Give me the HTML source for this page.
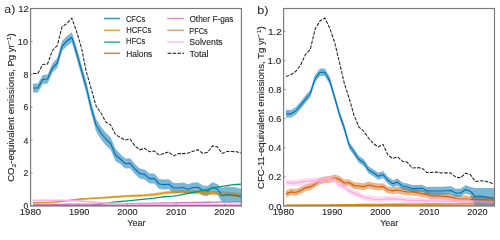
<!DOCTYPE html><html><head><meta charset="utf-8"><style>html,body{margin:0;padding:0;background:#fff;width:500px;height:231px;overflow:hidden}svg{display:block;will-change:transform}</style></head><body><svg width="500" height="231" viewBox="0 0 500 231"><defs><clipPath id="ca"><rect x="30.6" y="8.5" width="210.8" height="197.5"/></clipPath><clipPath id="cb"><rect x="283.6" y="8.5" width="210.89999999999998" height="197.5"/></clipPath></defs><g clip-path="url(#ca)"><path d="M33.02,202.30 L37.88,202.17 L42.73,202.04 L47.58,201.90 L52.42,201.61 L57.27,201.18 L62.12,200.74 L66.97,200.04 L71.82,199.34 L76.67,198.63 L81.53,198.22 L86.38,197.91 L91.22,197.60 L96.07,197.29 L100.92,196.97 L105.78,196.62 L110.62,196.23 L115.47,195.83 L120.32,195.44 L125.17,195.05 L130.03,194.72 L134.88,194.48 L139.72,194.24 L144.57,193.94 L149.42,193.53 L154.28,193.12 L159.12,192.34 L163.97,191.54 L168.82,190.86 L173.67,190.52 L178.52,190.28 L183.37,190.07 L188.22,190.18 L193.07,190.29 L197.92,190.43 L202.77,190.59 L207.62,190.75 L212.47,190.91 L217.32,191.19 L222.17,191.48 L227.02,191.77 L231.87,192.21 L236.72,192.66 L241.57,193.10 L241.57,197.90 L236.72,197.34 L231.87,196.79 L227.02,196.23 L222.17,195.83 L217.32,195.43 L212.47,195.04 L207.62,194.77 L202.77,194.50 L197.92,194.23 L193.07,193.98 L188.22,193.77 L183.37,193.55 L178.52,193.66 L173.67,193.80 L168.82,194.04 L163.97,194.61 L159.12,195.32 L154.28,195.99 L149.42,196.31 L144.57,196.62 L139.72,196.83 L134.88,196.97 L130.03,197.12 L125.17,197.36 L120.32,197.67 L115.47,197.97 L110.62,198.28 L105.78,198.58 L100.92,198.86 L96.07,199.09 L91.22,199.32 L86.38,199.55 L81.53,199.79 L76.67,200.13 L71.82,200.76 L66.97,201.40 L62.12,202.03 L57.27,202.41 L52.42,202.78 L47.58,203.02 L42.73,203.11 L37.88,203.20 L33.02,203.30Z" fill="#de8f05" fill-opacity="0.4"/><path d="M33.02,83.50 L37.88,83.50 L42.73,74.90 L47.58,74.50 L52.42,63.50 L57.27,58.00 L62.12,41.00 L66.97,36.00 L71.82,32.30 L76.67,47.20 L81.53,64.70 L86.38,81.80 L91.22,102.20 L96.07,118.70 L100.92,126.70 L105.78,132.70 L110.62,137.20 L115.47,148.70 L120.32,154.00 L125.17,158.60 L130.03,158.20 L134.88,164.00 L139.72,168.50 L144.57,169.40 L149.42,173.60 L154.28,173.60 L159.12,179.00 L163.97,179.60 L168.82,179.20 L173.67,183.00 L178.52,183.00 L183.37,182.50 L188.22,184.20 L193.07,182.50 L197.92,182.20 L202.77,185.50 L207.62,186.00 L212.47,182.20 L217.32,184.00 L222.17,188.00 L227.02,186.50 L231.87,187.00 L236.72,187.50 L241.57,189.00 L241.57,202.50 L236.72,202.50 L231.87,202.50 L227.02,202.50 L222.17,202.50 L217.32,194.50 L212.47,192.20 L207.62,196.00 L202.77,195.50 L197.92,192.20 L193.07,192.50 L188.22,194.20 L183.37,192.50 L178.52,193.00 L173.67,193.00 L168.82,189.20 L163.97,189.60 L159.12,189.00 L154.28,183.60 L149.42,183.60 L144.57,179.40 L139.72,178.50 L134.88,174.00 L130.03,168.20 L125.17,168.60 L120.32,164.00 L115.47,161.30 L110.62,149.80 L105.78,145.30 L100.92,139.30 L96.07,131.30 L91.22,113.80 L86.38,93.40 L81.53,76.30 L76.67,58.80 L71.82,42.30 L66.97,46.00 L62.12,51.00 L57.27,68.00 L52.42,72.50 L47.58,83.50 L42.73,83.90 L37.88,92.50 L33.02,92.50Z" fill="#0173b2" fill-opacity="0.52"/><path d="M33.02,202.30 L37.88,202.17 L42.73,202.04 L47.58,201.90 L52.42,201.61 L57.27,201.18 L62.12,200.74 L66.97,200.04 L71.82,199.34 L76.67,198.63 L81.53,198.22 L86.38,197.91 L91.22,197.60 L96.07,197.29 L100.92,196.97 L105.78,196.62 L110.62,196.23 L115.47,195.83 L120.32,195.44 L125.17,195.05 L130.03,194.72 L134.88,194.48 L139.72,194.24 L144.57,193.94 L149.42,193.53 L154.28,193.12 L159.12,192.34 L163.97,191.54 L168.82,190.86 L173.67,190.52 L178.52,190.28 L183.37,190.07 L188.22,190.18 L193.07,190.29 L197.92,190.43 L202.77,190.59 L207.62,190.75 L212.47,190.91 L217.32,191.19 L222.17,191.48 L227.02,191.77 L231.87,192.21 L236.72,192.66 L241.57,193.10 L241.57,197.90 L236.72,197.34 L231.87,196.79 L227.02,196.23 L222.17,195.83 L217.32,195.43 L212.47,195.04 L207.62,194.77 L202.77,194.50 L197.92,194.23 L193.07,193.98 L188.22,193.77 L183.37,193.55 L178.52,193.66 L173.67,193.80 L168.82,194.04 L163.97,194.61 L159.12,195.32 L154.28,195.99 L149.42,196.31 L144.57,196.62 L139.72,196.83 L134.88,196.97 L130.03,197.12 L125.17,197.36 L120.32,197.67 L115.47,197.97 L110.62,198.28 L105.78,198.58 L100.92,198.86 L96.07,199.09 L91.22,199.32 L86.38,199.55 L81.53,199.79 L76.67,200.13 L71.82,200.76 L66.97,201.40 L62.12,202.03 L57.27,202.41 L52.42,202.78 L47.58,203.02 L42.73,203.11 L37.88,203.20 L33.02,203.30Z" fill="#de8f05" fill-opacity="0.25"/><path d="M33.02,202.80 L37.88,202.69 L42.73,202.57 L47.58,202.46 L52.42,202.20 L57.27,201.79 L62.12,201.38 L66.97,200.72 L71.82,200.05 L76.67,199.38 L81.53,199.00 L86.38,198.73 L91.22,198.46 L96.07,198.19 L100.92,197.92 L105.78,197.60 L110.62,197.25 L115.47,196.90 L120.32,196.55 L125.17,196.20 L130.03,195.92 L134.88,195.72 L139.72,195.53 L144.57,195.28 L149.42,194.92 L154.28,194.55 L159.12,193.83 L163.97,193.07 L168.82,192.45 L173.67,192.16 L178.52,191.97 L183.37,191.81 L188.22,191.97 L193.07,192.14 L197.92,192.33 L202.77,192.55 L207.62,192.76 L212.47,192.98 L217.32,193.31 L222.17,193.66 L227.02,194.00 L231.87,194.50 L236.72,195.00 L241.57,195.50" stroke="#de8f05" stroke-width="1.3" fill="none" stroke-opacity="0.9"/><path d="M33.02,88.00 L37.88,88.00 L42.73,79.40 L47.58,79.00 L52.42,68.00 L57.27,63.00 L62.12,46.00 L66.97,41.00 L71.82,37.30 L76.67,53.00 L81.53,70.50 L86.38,87.60 L91.22,108.00 L96.07,125.00 L100.92,133.00 L105.78,139.00 L110.62,143.50 L115.47,155.00 L120.32,159.00 L125.17,163.60 L130.03,163.20 L134.88,169.00 L139.72,173.50 L144.57,174.40 L149.42,178.60 L154.28,178.60 L159.12,184.00 L163.97,184.60 L168.82,184.20 L173.67,188.00 L178.52,188.00 L183.37,187.50 L188.22,189.20 L193.07,187.50 L197.92,187.20 L202.77,190.50 L207.62,191.00 L212.47,187.20 L217.32,189.00 L222.17,196.00 L227.02,194.50 L231.87,195.00 L236.72,195.50 L241.57,197.00" stroke="#0173b2" stroke-width="1.15" fill="none" stroke-linejoin="round"/><path d="M33.02,206.20 L37.88,206.15 L42.73,206.10 L47.58,206.05 L52.42,206.00 L57.27,205.94 L62.12,205.89 L66.97,205.84 L71.82,205.79 L76.67,205.74 L81.53,205.69 L86.38,205.64 L91.22,205.41 L96.07,204.67 L100.92,203.92 L105.78,203.23 L110.62,202.58 L115.47,201.96 L120.32,201.51 L125.17,201.06 L130.03,200.60 L134.88,200.11 L139.72,199.63 L144.57,199.13 L149.42,198.60 L154.28,198.08 L159.12,197.42 L163.97,196.74 L168.82,196.37 L173.67,196.08 L178.52,195.30 L183.37,194.33 L188.22,193.40 L193.07,192.51 L197.92,191.61 L202.77,190.44 L207.62,189.26 L212.47,188.11 L217.32,187.19 L222.17,186.27 L227.02,185.55 L231.87,184.82 L236.72,184.50 L241.57,184.20" stroke="#029e73" stroke-width="1.3" fill="none"/><path d="M33.02,205.30 L37.88,205.30 L42.73,205.30 L47.58,205.30 L52.42,205.30 L57.27,205.30 L62.12,205.30 L66.97,205.30 L71.82,205.30 L76.67,205.30 L81.53,205.30 L86.38,205.30 L91.22,205.30 L96.07,205.30 L100.92,205.30 L105.78,205.30 L110.62,205.30 L115.47,205.30 L120.32,205.30 L125.17,205.30 L130.03,205.30 L134.88,205.30 L139.72,205.30 L144.57,205.30 L149.42,205.30 L154.28,205.30 L159.12,205.30 L163.97,205.30 L168.82,205.30 L173.67,205.30 L178.52,205.30 L183.37,205.30 L188.22,205.30 L193.07,205.30 L197.92,205.30 L202.77,205.30 L207.62,205.30 L212.47,205.30 L217.32,205.30 L222.17,205.30 L227.02,205.30 L231.87,205.30 L236.72,205.30 L241.57,205.30" stroke="#ca9161" stroke-width="1.3" fill="none"/><path d="M33.02,204.50 L37.88,204.46 L42.73,204.43 L47.58,204.39 L52.42,204.36 L57.27,204.32 L62.12,204.29 L66.97,204.25 L71.82,204.21 L76.67,204.18 L81.53,204.14 L86.38,204.11 L91.22,204.07 L96.07,204.04 L100.92,204.00 L105.78,203.96 L110.62,203.93 L115.47,203.89 L120.32,203.86 L125.17,203.82 L130.03,203.75 L134.88,203.63 L139.72,203.52 L144.57,203.40 L149.42,203.29 L154.28,203.18 L159.12,203.09 L163.97,203.01 L168.82,202.93 L173.67,202.85 L178.52,202.76 L183.37,202.68 L188.22,202.60 L193.07,202.51 L197.92,202.41 L202.77,202.32 L207.62,202.23 L212.47,202.14 L217.32,202.05 L222.17,201.96 L227.02,201.87 L231.87,201.78 L236.72,201.69 L241.57,201.60" stroke="#cc78bc" stroke-width="1.3" fill="none"/><path d="M33.02,205.70 L37.88,205.70 L42.73,205.69 L47.58,205.69 L52.42,205.68 L57.27,205.68 L62.12,205.67 L66.97,205.67 L71.82,205.66 L76.67,205.66 L81.53,205.65 L86.38,205.65 L91.22,205.64 L96.07,205.64 L100.92,205.63 L105.78,205.63 L110.62,205.63 L115.47,205.62 L120.32,205.62 L125.17,205.61 L130.03,205.61 L134.88,205.60 L139.72,205.60 L144.57,205.59 L149.42,205.59 L154.28,205.58 L159.12,205.58 L163.97,205.57 L168.82,205.57 L173.67,205.57 L178.52,205.56 L183.37,205.56 L188.22,205.55 L193.07,205.55 L197.92,205.54 L202.77,205.54 L207.62,205.53 L212.47,205.53 L217.32,205.52 L222.17,205.52 L227.02,205.51 L231.87,205.51 L236.72,205.50 L241.57,205.50" stroke="#d55e00" stroke-width="1.2" fill="none" stroke-opacity="0.75"/><path d="M33.02,200.40 L37.88,200.38 L42.73,200.37 L47.58,200.35 L52.42,200.33 L57.27,200.32 L62.12,200.30 L66.97,200.49 L71.82,200.67 L76.67,200.85 L81.53,201.17 L86.38,201.54 L91.22,201.91 L96.07,202.27 L100.92,202.64 L105.78,202.96 L110.62,203.23 L115.47,203.50 L120.32,203.77 L125.17,204.04 L130.03,204.20 L134.88,204.21 L139.72,204.21 L144.57,204.21 L149.42,204.22 L154.28,204.22 L159.12,204.23 L163.97,204.23 L168.82,204.24 L173.67,204.24 L178.52,204.24 L183.37,204.25 L188.22,204.25 L193.07,204.26 L197.92,204.26 L202.77,204.27 L207.62,204.27 L212.47,204.27 L217.32,204.28 L222.17,204.28 L227.02,204.29 L231.87,204.29 L236.72,204.30 L241.57,204.30" stroke="#fbafe4" stroke-width="1.6" fill="none"/><path d="M33.02,73.50 L37.88,73.50 L42.73,64.50 L47.58,64.00 L52.42,50.50 L57.27,45.50 L62.12,26.70 L66.97,23.50 L71.82,18.20 L76.67,31.80 L81.53,48.00 L86.38,72.00 L91.22,88.70 L96.07,106.00 L100.92,113.00 L105.78,122.00 L110.62,125.00 L115.47,134.50 L120.32,137.50 L125.17,140.00 L130.03,139.00 L134.88,146.00 L139.72,149.80 L144.57,148.30 L149.42,151.70 L154.28,151.00 L159.12,155.00 L163.97,153.40 L168.82,152.00 L173.67,156.00 L178.52,153.60 L183.37,153.60 L188.22,153.00 L193.07,151.20 L197.92,149.70 L202.77,153.40 L207.62,152.30 L212.47,145.90 L217.32,146.80 L222.17,153.40 L227.02,151.50 L231.87,151.50 L236.72,151.75 L241.57,153.20" stroke="#222" stroke-width="1.05" fill="none" stroke-dasharray="3.5,1.3"/></g><g clip-path="url(#cb)"><path d="M286.03,205.50 L290.88,205.50 L295.73,205.50 L300.58,205.50 L305.43,205.50 L310.28,205.50 L315.12,205.50 L319.98,205.50 L324.83,205.50 L329.68,205.50 L334.53,205.50 L339.38,205.50 L344.23,205.50 L349.08,205.50 L353.93,205.50 L358.78,205.50 L363.62,205.50 L368.48,205.50 L373.33,205.50 L378.18,205.50 L383.03,205.50 L387.88,205.50 L392.73,205.50 L397.58,205.50 L402.43,205.50 L407.28,205.50 L412.12,205.50 L416.98,205.50 L421.83,205.50 L426.68,205.50 L431.52,205.50 L436.38,205.50 L441.23,205.50 L446.08,205.50 L450.93,205.50 L455.77,205.50 L460.62,205.50 L465.48,205.50 L470.33,205.50 L475.18,205.50 L480.02,205.50 L484.88,205.50 L489.73,205.50 L494.58,205.50" stroke="#cc78bc" stroke-width="1.3" fill="none"/><path d="M286.03,205.80 L290.88,205.80 L295.73,205.80 L300.58,205.80 L305.43,205.80 L310.28,205.80 L315.12,205.80 L319.98,205.80 L324.83,205.80 L329.68,205.80 L334.53,205.80 L339.38,205.80 L344.23,205.80 L349.08,205.80 L353.93,205.80 L358.78,205.80 L363.62,205.80 L368.48,205.80 L373.33,205.80 L378.18,205.80 L383.03,205.80 L387.88,205.80 L392.73,205.80 L397.58,205.80 L402.43,205.80 L407.28,205.80 L412.12,205.80 L416.98,205.80 L421.83,205.80 L426.68,205.80 L431.52,205.80 L436.38,205.80 L441.23,205.80 L446.08,205.80 L450.93,205.80 L455.77,205.80 L460.62,205.80 L465.48,205.80 L470.33,205.80 L475.18,205.80 L480.02,205.80 L484.88,205.80 L489.73,205.80 L494.58,205.80" stroke="#ca9161" stroke-width="1.3" fill="none"/><path d="M286.03,205.30 L290.88,205.28 L295.73,205.26 L300.58,205.23 L305.43,205.21 L310.28,205.19 L315.12,205.17 L319.98,205.15 L324.83,205.12 L329.68,205.10 L334.53,205.01 L339.38,204.91 L344.23,204.82 L349.08,204.72 L353.93,204.62 L358.78,204.52 L363.62,204.47 L368.48,204.44 L373.33,204.40 L378.18,204.36 L383.03,204.33 L387.88,204.29 L392.73,204.25 L397.58,204.22 L402.43,204.18 L407.28,204.15 L412.12,204.12 L416.98,204.09 L421.83,204.05 L426.68,204.02 L431.52,203.99 L436.38,203.96 L441.23,203.93 L446.08,203.89 L450.93,203.86 L455.77,203.83 L460.62,203.80 L465.48,203.77 L470.33,203.74 L475.18,203.72 L480.02,203.69 L484.88,203.66 L489.73,203.63 L494.58,203.60" stroke="#de8f05" stroke-width="1.4" fill="none"/><path d="M286.03,190.50 L290.88,188.50 L295.73,189.10 L300.58,187.10 L305.43,184.50 L310.28,183.50 L315.12,180.50 L319.98,177.50 L324.83,176.50 L329.68,175.90 L334.53,174.50 L339.38,176.00 L344.23,179.60 L349.08,179.20 L353.93,182.20 L358.78,182.60 L363.62,183.20 L368.48,181.60 L373.33,182.60 L378.18,183.60 L383.03,183.20 L387.88,186.60 L392.73,187.20 L397.58,186.60 L402.43,187.60 L407.28,188.60 L412.12,188.60 L416.98,189.20 L421.83,190.20 L426.68,191.00 L431.52,192.40 L436.38,192.40 L441.23,192.80 L446.08,193.00 L450.93,193.80 L455.77,195.00 L460.62,195.80 L465.48,195.40 L470.33,196.00 L475.18,196.00 L480.02,196.40 L484.88,196.60 L489.73,196.80 L494.58,196.90 L494.58,203.70 L489.73,203.60 L484.88,203.40 L480.02,203.20 L475.18,202.80 L470.33,202.80 L465.48,202.20 L460.62,202.60 L455.77,201.80 L450.93,200.60 L446.08,199.80 L441.23,199.60 L436.38,199.20 L431.52,199.20 L426.68,197.80 L421.83,197.00 L416.98,196.00 L412.12,195.40 L407.28,195.40 L402.43,194.40 L397.58,193.40 L392.73,194.00 L387.88,193.40 L383.03,190.00 L378.18,190.40 L373.33,189.40 L368.48,188.40 L363.62,190.00 L358.78,189.40 L353.93,189.00 L349.08,186.00 L344.23,186.40 L339.38,182.80 L334.53,181.30 L329.68,182.70 L324.83,183.30 L319.98,184.30 L315.12,187.30 L310.28,190.30 L305.43,191.30 L300.58,193.90 L295.73,195.90 L290.88,195.30 L286.03,197.30Z" fill="#d55e00" fill-opacity="0.45"/><path d="M286.03,193.90 L290.88,191.90 L295.73,192.50 L300.58,190.50 L305.43,187.90 L310.28,186.90 L315.12,183.90 L319.98,180.90 L324.83,179.90 L329.68,179.30 L334.53,177.90 L339.38,179.40 L344.23,183.00 L349.08,182.60 L353.93,185.60 L358.78,186.00 L363.62,186.60 L368.48,185.00 L373.33,186.00 L378.18,187.00 L383.03,186.60 L387.88,190.00 L392.73,190.60 L397.58,190.00 L402.43,191.00 L407.28,192.00 L412.12,192.00 L416.98,192.60 L421.83,193.60 L426.68,194.40 L431.52,195.80 L436.38,195.80 L441.23,196.20 L446.08,196.40 L450.93,197.20 L455.77,198.40 L460.62,199.20 L465.48,198.80 L470.33,199.40 L475.18,199.40 L480.02,199.80 L484.88,200.00 L489.73,200.20 L494.58,200.30" stroke="#d55e00" stroke-width="1.2" fill="none"/><path d="M286.03,179.60 L290.88,180.00 L295.73,180.00 L300.58,179.00 L305.43,178.40 L310.28,178.00 L315.12,177.40 L319.98,178.00 L324.83,176.40 L329.68,176.00 L334.53,177.00 L339.38,182.00 L344.23,184.00 L349.08,188.00 L353.93,190.00 L358.78,192.00 L363.62,194.40 L368.48,195.00 L373.33,196.00 L378.18,196.40 L383.03,196.60 L387.88,195.80 L392.73,196.00 L397.58,196.20 L402.43,196.40 L407.28,197.20 L412.12,197.40 L416.98,197.60 L421.83,197.70 L426.68,197.80 L431.52,197.90 L436.38,198.00 L441.23,198.10 L446.08,198.20 L450.93,198.30 L455.77,198.40 L460.62,198.50 L465.48,198.60 L470.33,198.60 L475.18,198.60 L480.02,198.60 L484.88,198.70 L489.73,198.80 L494.58,198.80 L494.58,204.80 L489.73,204.80 L484.88,204.70 L480.02,204.60 L475.18,204.60 L470.33,204.60 L465.48,204.60 L460.62,204.50 L455.77,204.40 L450.93,204.30 L446.08,204.20 L441.23,204.10 L436.38,204.00 L431.52,203.90 L426.68,203.80 L421.83,203.70 L416.98,203.60 L412.12,203.40 L407.28,203.20 L402.43,202.40 L397.58,202.20 L392.73,202.00 L387.88,201.80 L383.03,202.60 L378.18,202.40 L373.33,202.00 L368.48,201.00 L363.62,200.40 L358.78,198.00 L353.93,196.00 L349.08,194.00 L344.23,190.00 L339.38,188.00 L334.53,183.00 L329.68,182.00 L324.83,182.40 L319.98,184.00 L315.12,183.40 L310.28,184.00 L305.43,184.40 L300.58,185.00 L295.73,186.00 L290.88,186.00 L286.03,185.60Z" fill="#fbafe4" fill-opacity="0.45"/><path d="M286.03,182.60 L290.88,183.00 L295.73,183.00 L300.58,182.00 L305.43,181.40 L310.28,181.00 L315.12,180.40 L319.98,181.00 L324.83,179.40 L329.68,179.00 L334.53,180.00 L339.38,185.00 L344.23,187.00 L349.08,191.00 L353.93,193.00 L358.78,195.00 L363.62,197.40 L368.48,198.00 L373.33,199.00 L378.18,199.40 L383.03,199.60 L387.88,198.80 L392.73,199.00 L397.58,199.20 L402.43,199.40 L407.28,200.20 L412.12,200.40 L416.98,200.60 L421.83,200.70 L426.68,200.80 L431.52,200.90 L436.38,201.00 L441.23,201.10 L446.08,201.20 L450.93,201.30 L455.77,201.40 L460.62,201.50 L465.48,201.60 L470.33,201.60 L475.18,201.60 L480.02,201.60 L484.88,201.70 L489.73,201.80 L494.58,201.80" stroke="#fbafe4" stroke-width="1.4" fill="none"/><path d="M286.03,110.00 L290.88,110.00 L295.73,107.20 L300.58,101.50 L305.43,95.50 L310.28,89.70 L315.12,74.70 L319.98,68.50 L324.83,68.50 L329.68,76.80 L334.53,93.20 L339.38,110.20 L344.23,124.20 L349.08,141.50 L353.93,148.50 L358.78,155.70 L363.62,159.00 L368.48,166.30 L373.33,169.30 L378.18,172.70 L383.03,171.00 L387.88,176.70 L392.73,180.30 L397.58,178.60 L402.43,182.50 L407.28,183.50 L412.12,185.00 L416.98,185.10 L421.83,184.70 L426.68,187.10 L431.52,186.70 L436.38,186.70 L441.23,186.70 L446.08,186.50 L450.93,186.20 L455.77,188.70 L460.62,188.70 L465.48,185.20 L470.33,186.90 L475.18,188.00 L480.02,188.00 L484.88,188.00 L489.73,188.00 L494.58,188.00 L494.58,205.80 L489.73,205.80 L484.88,205.80 L480.02,205.80 L475.18,205.80 L470.33,195.00 L465.48,193.30 L460.62,196.80 L455.77,196.80 L450.93,194.30 L446.08,194.60 L441.23,194.80 L436.38,194.80 L431.52,194.80 L426.68,194.10 L421.83,191.70 L416.98,192.10 L412.12,192.00 L407.28,190.50 L402.43,189.50 L397.58,185.60 L392.73,187.30 L387.88,183.70 L383.03,178.00 L378.18,179.70 L373.33,176.30 L368.48,173.30 L363.62,166.00 L358.78,162.70 L353.93,155.50 L349.08,148.50 L344.23,131.80 L339.38,117.80 L334.53,100.80 L329.68,84.40 L324.83,76.10 L319.98,76.10 L315.12,82.30 L310.28,97.30 L305.43,103.10 L300.58,109.10 L295.73,114.80 L290.88,117.60 L286.03,117.60Z" fill="#0173b2" fill-opacity="0.52"/><path d="M470.33,196.00 L475.18,196.00 L480.02,196.40 L484.88,196.60 L489.73,196.80 L494.58,196.90 L494.58,203.70 L489.73,203.60 L484.88,203.40 L480.02,203.20 L475.18,202.80 L470.33,202.80Z" fill="#d55e00" fill-opacity="0.2"/><path d="M470.33,199.40 L475.18,199.40 L480.02,199.80 L484.88,200.00 L489.73,200.20 L494.58,200.30" stroke="#d55e00" stroke-width="1.2" fill="none" stroke-opacity="0.8"/><path d="M470.33,201.60 L475.18,201.60 L480.02,201.60 L484.88,201.70 L489.73,201.80 L494.58,201.80" stroke="#fbafe4" stroke-width="2.5" fill="none" stroke-opacity="0.4"/><path d="M286.03,205.30 L290.88,205.28 L295.73,205.26 L300.58,205.23 L305.43,205.21 L310.28,205.19 L315.12,205.17 L319.98,205.15 L324.83,205.12 L329.68,205.10 L334.53,205.01 L339.38,204.91 L344.23,204.82 L349.08,204.72 L353.93,204.62 L358.78,204.52 L363.62,204.47 L368.48,204.44 L373.33,204.40 L378.18,204.36 L383.03,204.33 L387.88,204.29 L392.73,204.25 L397.58,204.22 L402.43,204.18 L407.28,204.15 L412.12,204.12 L416.98,204.09 L421.83,204.05 L426.68,204.02 L431.52,203.99 L436.38,203.96 L441.23,203.93 L446.08,203.89 L450.93,203.86 L455.77,203.83 L460.62,203.80 L465.48,203.77 L470.33,203.74 L475.18,203.72 L480.02,203.69 L484.88,203.66 L489.73,203.63 L494.58,203.60" stroke="#de8f05" stroke-width="1.2" fill="none" stroke-opacity="0.6"/><path d="M286.03,113.80 L290.88,113.80 L295.73,111.00 L300.58,105.30 L305.43,99.30 L310.28,93.50 L315.12,78.50 L319.98,72.30 L324.83,72.30 L329.68,80.60 L334.53,97.00 L339.38,114.00 L344.23,128.00 L349.08,145.00 L353.93,152.00 L358.78,159.20 L363.62,162.50 L368.48,169.80 L373.33,172.80 L378.18,176.20 L383.03,174.50 L387.88,180.20 L392.73,183.80 L397.58,182.10 L402.43,186.00 L407.28,187.00 L412.12,188.50 L416.98,188.60 L421.83,188.20 L426.68,190.60 L431.52,191.00 L436.38,191.00 L441.23,191.00 L446.08,190.80 L450.93,190.50 L455.77,193.00 L460.62,193.00 L465.48,189.50 L470.33,191.20 L475.18,196.50 L480.02,196.00 L484.88,196.80 L489.73,197.80 L494.58,198.50" stroke="#0173b2" stroke-width="1.15" fill="none" stroke-linejoin="round"/><path d="M286.03,76.60 L290.88,74.80 L295.73,71.40 L300.58,65.20 L305.43,54.50 L310.28,49.50 L315.12,29.00 L319.98,21.00 L324.83,18.00 L329.68,28.00 L334.53,42.00 L339.38,62.00 L344.23,83.00 L349.08,98.00 L353.93,115.00 L358.78,127.00 L363.62,131.00 L368.48,138.00 L373.33,143.50 L378.18,147.00 L383.03,144.40 L387.88,155.00 L392.73,158.40 L397.58,156.80 L402.43,161.30 L407.28,162.20 L412.12,168.00 L416.98,167.60 L421.83,168.00 L426.68,172.40 L431.52,172.40 L436.38,172.00 L441.23,173.00 L446.08,172.80 L450.93,173.00 L455.77,177.20 L460.62,177.80 L465.48,173.20 L470.33,174.50 L475.18,181.50 L480.02,180.80 L484.88,181.00 L489.73,182.50 L494.58,184.20" stroke="#222" stroke-width="1.05" fill="none" stroke-dasharray="3.5,1.3"/></g><rect x="30.6" y="8.5" width="210.8" height="197.5" fill="none" stroke="#7a7a7a" stroke-width="1.15"/><rect x="283.6" y="8.5" width="210.89999999999998" height="197.5" fill="none" stroke="#7a7a7a" stroke-width="1.15"/><line x1="30.6" y1="206.00" x2="32.6" y2="206.00" stroke="#7a7a7a" stroke-width="0.8"/><line x1="30.6" y1="173.10" x2="32.6" y2="173.10" stroke="#7a7a7a" stroke-width="0.8"/><line x1="30.6" y1="140.20" x2="32.6" y2="140.20" stroke="#7a7a7a" stroke-width="0.8"/><line x1="30.6" y1="107.30" x2="32.6" y2="107.30" stroke="#7a7a7a" stroke-width="0.8"/><line x1="30.6" y1="74.40" x2="32.6" y2="74.40" stroke="#7a7a7a" stroke-width="0.8"/><line x1="30.6" y1="41.50" x2="32.6" y2="41.50" stroke="#7a7a7a" stroke-width="0.8"/><line x1="30.6" y1="8.60" x2="32.6" y2="8.60" stroke="#7a7a7a" stroke-width="0.8"/><line x1="283.6" y1="206.00" x2="285.6" y2="206.00" stroke="#7a7a7a" stroke-width="0.8"/><line x1="283.6" y1="176.88" x2="285.6" y2="176.88" stroke="#7a7a7a" stroke-width="0.8"/><line x1="283.6" y1="147.76" x2="285.6" y2="147.76" stroke="#7a7a7a" stroke-width="0.8"/><line x1="283.6" y1="118.64" x2="285.6" y2="118.64" stroke="#7a7a7a" stroke-width="0.8"/><line x1="283.6" y1="89.52" x2="285.6" y2="89.52" stroke="#7a7a7a" stroke-width="0.8"/><line x1="283.6" y1="60.40" x2="285.6" y2="60.40" stroke="#7a7a7a" stroke-width="0.8"/><line x1="283.6" y1="31.28" x2="285.6" y2="31.28" stroke="#7a7a7a" stroke-width="0.8"/><line x1="30.60" y1="206.0" x2="30.60" y2="204.0" stroke="#7a7a7a" stroke-width="0.8"/><line x1="79.10" y1="206.0" x2="79.10" y2="204.0" stroke="#7a7a7a" stroke-width="0.8"/><line x1="127.60" y1="206.0" x2="127.60" y2="204.0" stroke="#7a7a7a" stroke-width="0.8"/><line x1="176.10" y1="206.0" x2="176.10" y2="204.0" stroke="#7a7a7a" stroke-width="0.8"/><line x1="224.60" y1="206.0" x2="224.60" y2="204.0" stroke="#7a7a7a" stroke-width="0.8"/><line x1="283.60" y1="206.0" x2="283.60" y2="204.0" stroke="#7a7a7a" stroke-width="0.8"/><line x1="332.10" y1="206.0" x2="332.10" y2="204.0" stroke="#7a7a7a" stroke-width="0.8"/><line x1="380.60" y1="206.0" x2="380.60" y2="204.0" stroke="#7a7a7a" stroke-width="0.8"/><line x1="429.10" y1="206.0" x2="429.10" y2="204.0" stroke="#7a7a7a" stroke-width="0.8"/><line x1="477.60" y1="206.0" x2="477.60" y2="204.0" stroke="#7a7a7a" stroke-width="0.8"/><line x1="104" y1="18.5" x2="120.2" y2="18.5" stroke="#0173b2" stroke-width="1.45" stroke-opacity="0.8"/><line x1="104" y1="30.3" x2="120.2" y2="30.3" stroke="#de8f05" stroke-width="1.45" stroke-opacity="0.8"/><line x1="104" y1="42.1" x2="120.2" y2="42.1" stroke="#029e73" stroke-width="1.45" stroke-opacity="0.8"/><line x1="104" y1="53.3" x2="120.2" y2="53.3" stroke="#d55e00" stroke-width="1.45" stroke-opacity="0.8"/><line x1="167.2" y1="18.5" x2="184" y2="18.5" stroke="#cc78bc" stroke-width="1.45" stroke-opacity="0.8"/><line x1="167.2" y1="30.3" x2="184" y2="30.3" stroke="#ca9161" stroke-width="1.45" stroke-opacity="0.8"/><line x1="167.2" y1="42.1" x2="184" y2="42.1" stroke="#fbafe4" stroke-width="1.45" stroke-opacity="0.8"/><line x1="167.6" y1="53.3" x2="184" y2="53.3" stroke="#111" stroke-width="1.1" stroke-dasharray="3.6,1.3"/><g font-family="&quot;Liberation Sans&quot;, sans-serif" fill="#262626" stroke="#262626" stroke-width="0.12"><text id="ya0" x="23.59" y="209.37" font-size="8.9" textLength="4.84" lengthAdjust="spacingAndGlyphs">0</text><text id="ya2" x="23.59" y="176.25" font-size="8.9" textLength="4.84" lengthAdjust="spacingAndGlyphs">2</text><text id="ya4" x="23.59" y="143.73" font-size="8.9" textLength="4.84" lengthAdjust="spacingAndGlyphs">4</text><text id="ya6" x="23.59" y="110.41" font-size="8.9" textLength="4.84" lengthAdjust="spacingAndGlyphs">6</text><text id="ya8" x="23.59" y="77.89" font-size="8.9" textLength="4.84" lengthAdjust="spacingAndGlyphs">8</text><text id="ya10" x="17.89" y="44.57" font-size="8.9" textLength="10.04" lengthAdjust="spacingAndGlyphs">10</text><text id="ya12" x="18.19" y="12.05" font-size="8.9" textLength="10.64" lengthAdjust="spacingAndGlyphs">12</text><text id="yb0" x="268.40" y="209.72" font-size="8.9" textLength="13.12" lengthAdjust="spacingAndGlyphs">0.0</text><text id="yb1" x="268.60" y="180.14" font-size="8.9" textLength="12.72" lengthAdjust="spacingAndGlyphs">0.2</text><text id="yb2" x="268.60" y="150.65" font-size="8.9" textLength="12.72" lengthAdjust="spacingAndGlyphs">0.4</text><text id="yb3" x="268.60" y="121.55" font-size="8.9" textLength="12.72" lengthAdjust="spacingAndGlyphs">0.6</text><text id="yb4" x="268.60" y="92.66" font-size="8.9" textLength="12.72" lengthAdjust="spacingAndGlyphs">0.8</text><text id="yb5" x="267.60" y="63.56" font-size="8.9" textLength="13.52" lengthAdjust="spacingAndGlyphs">1.0</text><text id="yb6" x="267.90" y="34.66" font-size="8.9" textLength="14.12" lengthAdjust="spacingAndGlyphs">1.2</text><text id="xa1980" x="19.84" y="215.16" font-size="8.9" textLength="21.16" lengthAdjust="spacingAndGlyphs">1980</text><text id="xa1990" x="68.94" y="215.16" font-size="8.9" textLength="20.56" lengthAdjust="spacingAndGlyphs">1990</text><text id="xa2000" x="117.24" y="215.16" font-size="8.9" textLength="20.36" lengthAdjust="spacingAndGlyphs">2000</text><text id="xa2010" x="166.04" y="215.16" font-size="8.9" textLength="20.36" lengthAdjust="spacingAndGlyphs">2010</text><text id="xa2020" x="214.24" y="215.16" font-size="8.9" textLength="20.36" lengthAdjust="spacingAndGlyphs">2020</text><text id="xb1980" x="272.84" y="215.16" font-size="8.9" textLength="21.16" lengthAdjust="spacingAndGlyphs">1980</text><text id="xb1990" x="321.94" y="215.16" font-size="8.9" textLength="20.56" lengthAdjust="spacingAndGlyphs">1990</text><text id="xb2000" x="370.24" y="215.16" font-size="8.9" textLength="20.36" lengthAdjust="spacingAndGlyphs">2000</text><text id="xb2010" x="419.04" y="215.16" font-size="8.9" textLength="20.36" lengthAdjust="spacingAndGlyphs">2010</text><text id="xb2020" x="467.24" y="215.16" font-size="8.9" textLength="20.36" lengthAdjust="spacingAndGlyphs">2020</text><text id="yeara" x="127.24" y="225.68" font-size="8.9" textLength="18.36" lengthAdjust="spacingAndGlyphs">Year</text><text id="yearb" x="380.16" y="225.68" font-size="8.9" textLength="17.96" lengthAdjust="spacingAndGlyphs">Year</text><text id="pa" x="4.34" y="13.18" font-size="11.6" textLength="11.00" lengthAdjust="spacingAndGlyphs" stroke-width="0.03">a)</text><text id="pb" x="257.24" y="13.56" font-size="11.6" textLength="11.20" lengthAdjust="spacingAndGlyphs" stroke-width="0.03">b)</text><text id="la1" x="125.93" y="21.61" font-size="8.9" textLength="19.24" lengthAdjust="spacingAndGlyphs">CFCs</text><text id="la2" x="126.15" y="33.30" font-size="8.9" textLength="25.20" lengthAdjust="spacingAndGlyphs">HCFCs</text><text id="la3" x="126.00" y="44.45" font-size="8.9" textLength="19.40" lengthAdjust="spacingAndGlyphs">HFCs</text><text id="la4" x="126.15" y="56.63" font-size="8.9" textLength="26.20" lengthAdjust="spacingAndGlyphs">Halons</text><text id="lb1" x="189.43" y="21.90" font-size="8.9" textLength="44.08" lengthAdjust="spacingAndGlyphs">Other F-gas</text><text id="lb2" x="189.32" y="33.53" font-size="8.9" textLength="18.40" lengthAdjust="spacingAndGlyphs">PFCs</text><text id="lb3" x="189.20" y="45.45" font-size="8.9" textLength="33.52" lengthAdjust="spacingAndGlyphs">Solvents</text><text id="lb4" x="189.40" y="57.02" font-size="8.9" textLength="19.12" lengthAdjust="spacingAndGlyphs">Total</text><text id="yla" transform="translate(14.00,181.85) rotate(-90)" x="0" y="0" font-size="8.8" textLength="148.52" lengthAdjust="spacingAndGlyphs">CO<tspan font-size="6.2" dy="1.6">2</tspan><tspan dy="-1.6">-equivalent emissions, Pg yr</tspan><tspan font-size="6.2" dy="-3.2">−1</tspan><tspan dy="3.2">)</tspan></text><text id="ylb" transform="translate(264.40,188.96) rotate(-90)" x="0" y="0" font-size="8.8" textLength="162.72" lengthAdjust="spacingAndGlyphs">CFC-11-equivalent emissions, Tg yr<tspan font-size="6.2" dy="-3.2">−1</tspan><tspan dy="3.2">)</tspan></text></g></svg></body></html>
